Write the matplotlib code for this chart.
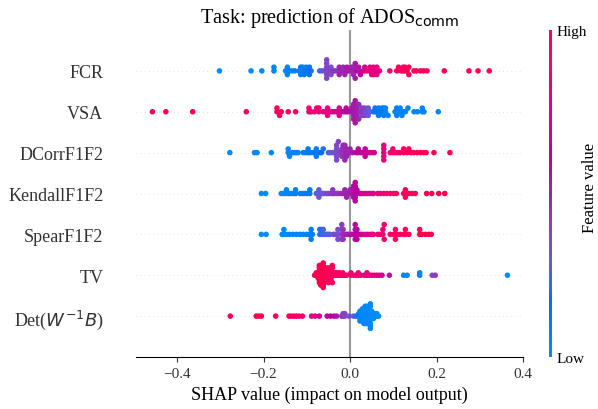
import numpy as np
import matplotlib
matplotlib.use("Agg")
import matplotlib.pyplot as plt
from matplotlib.colors import LinearSegmentedColormap, Normalize
from matplotlib.cm import ScalarMappable

plt.rcParams['font.family'] = ['Liberation Serif', 'DejaVu Sans']
plt.rcParams['mathtext.fontset'] = 'dejavusans'

# ---- data: (shap value, feature value 0..1, number of samples) ----
fcr = [
    (-0.302, 0.0, 1), (-0.229, 0.0, 1), (-0.204, 0.02, 1),
    (-0.176, 0.05, 2),
    (-0.149, 0.05, 1), (-0.145, 0.05, 2), (-0.140, 0.08, 1), (-0.134, 0.05, 1), (-0.128, 0.1, 1),
    (-0.118, 0.1, 1), (-0.114, 0.08, 3), (-0.110, 0.1, 2), (-0.106, 0.12, 1), (-0.102, 0.1, 2),
    (-0.098, 0.15, 1), (-0.094, 0.15, 2), (-0.090, 0.2, 1),
    (-0.070, 0.25, 1), (-0.064, 0.3, 1), (-0.058, 0.35, 1), (-0.054, 0.4, 6), (-0.048, 0.4, 1),
    (-0.044, 0.35, 2), (-0.040, 0.42, 1), (-0.036, 0.45, 1),
    (-0.030, 0.45, 1), (-0.025, 0.5, 2), (-0.020, 0.5, 1), (-0.016, 0.48, 2), (-0.012, 0.5, 1),
    (-0.007, 0.55, 2), (-0.003, 0.5, 1),
    (0.004, 0.55, 2), (0.008, 0.5, 3), (0.012, 0.55, 2), (0.016, 0.6, 1), (0.020, 0.55, 2), (0.024, 0.6, 1),
    (0.030, 0.7, 1), (0.034, 0.72, 2), (0.040, 0.75, 1), (0.046, 0.78, 2), (0.050, 0.75, 1),
    (0.054, 0.8, 3), (0.058, 0.78, 1), (0.062, 0.8, 2), (0.068, 0.75, 1),
    (0.092, 0.85, 1),
    (0.108, 0.9, 1), (0.112, 0.95, 1), (0.118, 0.95, 1), (0.123, 0.9, 2), (0.127, 0.95, 2),
    (0.132, 1.0, 1), (0.136, 0.95, 2),
    (0.148, 1.0, 1), (0.154, 0.95, 1), (0.163, 0.92, 1), (0.170, 1.0, 1), (0.178, 0.95, 1),
    (0.218, 1.0, 1), (0.275, 1.0, 1), (0.296, 1.0, 1), (0.322, 1.0, 1),
]

vsa = [
    (-0.457, 1.0, 1), (-0.426, 1.0, 1), (-0.364, 1.0, 1), (-0.240, 1.0, 1),
    (-0.169, 0.95, 2), (-0.163, 0.95, 1), (-0.159, 0.95, 1), (-0.143, 0.92, 1), (-0.126, 0.95, 1),
    (-0.095, 0.85, 2), (-0.090, 0.82, 1), (-0.082, 0.85, 1), (-0.077, 0.8, 1), (-0.072, 0.85, 2),
    (-0.062, 0.8, 1), (-0.057, 0.78, 1), (-0.052, 0.8, 2), (-0.047, 0.75, 1), (-0.041, 0.78, 1),
    (-0.036, 0.72, 1), (-0.030, 0.7, 1), (-0.025, 0.72, 2), (-0.020, 0.65, 1), (-0.014, 0.62, 1),
    (-0.009, 0.6, 2), (-0.004, 0.58, 1),
    (0.004, 0.55, 2), (0.008, 0.5, 3), (0.012, 0.55, 7), (0.016, 0.5, 3), (0.020, 0.48, 2),
    (0.024, 0.45, 1), (0.028, 0.42, 2), (0.034, 0.4, 3), (0.038, 0.35, 1), (0.042, 0.3, 2), (0.046, 0.3, 1),
    (0.054, 0.2, 1), (0.058, 0.15, 2), (0.062, 0.15, 1), (0.066, 0.1, 2), (0.070, 0.1, 1),
    (0.074, 0.08, 1), (0.078, 0.1, 3), (0.082, 0.05, 2), (0.088, 0.05, 1),
    (0.104, 0.05, 1), (0.108, 0.08, 2), (0.112, 0.05, 1), (0.116, 0.05, 2), (0.120, 0.05, 1),
    (0.124, 0.08, 1), (0.128, 0.05, 1), (0.134, 0.05, 1),
    (0.148, 0.05, 1), (0.156, 0.05, 1), (0.167, 0.05, 2), (0.171, 0.05, 1),
    (0.204, 0.02, 1),
]

dcorr = [
    (-0.278, 0.0, 1), (-0.221, 0.02, 1), (-0.215, 0.02, 1), (-0.182, 0.02, 1),
    (-0.143, 0.05, 2), (-0.140, 0.05, 1), (-0.133, 0.05, 1), (-0.128, 0.08, 1), (-0.124, 0.05, 1),
    (-0.120, 0.05, 1),
    (-0.108, 0.1, 1), (-0.103, 0.08, 1), (-0.097, 0.1, 2), (-0.092, 0.12, 1), (-0.085, 0.1, 1),
    (-0.081, 0.15, 1), (-0.078, 0.1, 2), (-0.070, 0.15, 1), (-0.066, 0.18, 1), (-0.062, 0.2, 1),
    (-0.050, 0.25, 1), (-0.045, 0.28, 1), (-0.040, 0.3, 1), (-0.035, 0.35, 1), (-0.031, 0.38, 5),
    (-0.027, 0.4, 1), (-0.023, 0.42, 1),
    (-0.019, 0.45, 3), (-0.016, 0.5, 1), (-0.012, 0.48, 5), (-0.008, 0.5, 3), (-0.004, 0.52, 1),
    (0.000, 0.5, 2), (0.006, 0.55, 1),
    (0.014, 0.58, 1), (0.019, 0.6, 2), (0.025, 0.62, 1), (0.030, 0.65, 1), (0.035, 0.62, 2),
    (0.039, 0.68, 1), (0.045, 0.7, 1), (0.050, 0.72, 1), (0.056, 0.7, 1),
    (0.078, 0.8, 5),
    (0.093, 0.85, 1), (0.099, 0.88, 2), (0.105, 0.9, 1), (0.110, 0.88, 1), (0.116, 0.9, 1),
    (0.124, 0.92, 2), (0.132, 0.92, 1),
    (0.136, 0.95, 1), (0.141, 1.0, 1), (0.147, 0.95, 1), (0.155, 1.0, 1), (0.163, 0.95, 1),
    (0.170, 1.0, 1), (0.176, 1.0, 1),
    (0.194, 1.0, 1), (0.231, 1.0, 1),
]

kendall = [
    (-0.205, 0.0, 1), (-0.195, 0.0, 1),
    (-0.159, 0.02, 1), (-0.154, 0.02, 1), (-0.147, 0.05, 2), (-0.141, 0.05, 1),
    (-0.136, 0.05, 1), (-0.130, 0.05, 1), (-0.126, 0.08, 2),
    (-0.115, 0.08, 1), (-0.109, 0.1, 1), (-0.104, 0.1, 1), (-0.099, 0.1, 1), (-0.093, 0.12, 2),
    (-0.078, 0.25, 1), (-0.075, 0.28, 1), (-0.072, 0.3, 2), (-0.068, 0.3, 1), (-0.064, 0.32, 1),
    (-0.060, 0.35, 1), (-0.054, 0.38, 1),
    (-0.050, 0.4, 1), (-0.045, 0.42, 1), (-0.040, 0.42, 2), (-0.037, 0.45, 1), (-0.031, 0.45, 1),
    (-0.027, 0.45, 1),
    (-0.021, 0.48, 1), (-0.016, 0.5, 1), (-0.012, 0.5, 2), (-0.008, 0.5, 1), (-0.004, 0.52, 1),
    (0.000, 0.5, 2), (0.004, 0.55, 2), (0.008, 0.55, 4), (0.012, 0.6, 6), (0.016, 0.6, 2),
    (0.023, 0.62, 1),
    (0.027, 0.68, 1), (0.033, 0.7, 1), (0.039, 0.72, 1), (0.045, 0.72, 1), (0.050, 0.75, 1),
    (0.054, 0.75, 1),
    (0.064, 0.8, 1), (0.070, 0.82, 1), (0.078, 0.85, 1), (0.085, 0.85, 1), (0.093, 0.88, 1),
    (0.101, 0.9, 1), (0.107, 0.9, 1),
    (0.124, 0.95, 1), (0.128, 0.95, 3), (0.136, 0.95, 1), (0.143, 0.95, 1), (0.151, 0.98, 1),
    (0.177, 1.0, 1), (0.189, 1.0, 1), (0.205, 1.0, 1), (0.219, 1.0, 1),
]

spear = [
    (-0.205, 0.0, 1), (-0.194, 0.0, 1),
    (-0.157, 0.02, 1), (-0.153, 0.02, 2), (-0.147, 0.05, 1), (-0.140, 0.05, 1), (-0.132, 0.05, 1),
    (-0.124, 0.05, 1), (-0.116, 0.05, 1), (-0.109, 0.05, 1), (-0.101, 0.05, 1), (-0.095, 0.08, 1),
    (-0.090, 0.1, 3), (-0.087, 0.1, 1),
    (-0.070, 0.2, 2), (-0.066, 0.2, 2), (-0.062, 0.25, 2), (-0.058, 0.22, 1), (-0.054, 0.28, 1),
    (-0.050, 0.3, 1), (-0.047, 0.25, 1), (-0.039, 0.35, 1), (-0.035, 0.38, 1), (-0.031, 0.4, 1),
    (-0.028, 0.35, 3),
    (-0.019, 0.42, 4), (-0.016, 0.45, 3), (-0.012, 0.48, 1), (-0.008, 0.5, 1), (-0.004, 0.5, 1),
    (0.000, 0.52, 1), (0.004, 0.55, 1), (0.008, 0.55, 1), (0.012, 0.58, 4), (0.016, 0.6, 3),
    (0.019, 0.62, 1), (0.023, 0.62, 1),
    (0.027, 0.7, 1), (0.033, 0.72, 1), (0.039, 0.75, 1), (0.045, 0.75, 1), (0.050, 0.78, 1),
    (0.054, 0.8, 1),
    (0.064, 0.82, 1), (0.070, 0.85, 1), (0.076, 0.85, 2), (0.079, 0.88, 2),
    (0.093, 0.9, 1), (0.101, 0.9, 1), (0.105, 0.92, 3), (0.109, 0.95, 1), (0.116, 0.95, 1),
    (0.124, 0.95, 1), (0.128, 0.95, 2), (0.136, 0.98, 1),
    (0.161, 1.0, 2), (0.166, 1.0, 1), (0.174, 1.0, 1), (0.182, 1.0, 1), (0.188, 1.0, 1),
]

tv = [
    (-0.082, 1.0, 1), (-0.078, 1.0, 2), (-0.074, 1.0, 3), (-0.071, 1.0, 5), (-0.068, 1.0, 9),
    (-0.065, 1.0, 6), (-0.062, 1.0, 5), (-0.059, 1.0, 7), (-0.056, 1.0, 6), (-0.053, 0.98, 4),
    (-0.050, 0.98, 3), (-0.047, 0.95, 2), (-0.044, 0.95, 5), (-0.041, 0.95, 3), (-0.037, 0.95, 2),
    (-0.033, 0.92, 2), (-0.029, 0.92, 2), (-0.025, 0.9, 2), (-0.021, 0.9, 1), (-0.017, 0.9, 2),
    (-0.012, 0.88, 1), (-0.008, 0.88, 1),
    (0.002, 0.88, 2), (0.008, 0.85, 1), (0.014, 0.85, 1), (0.019, 0.85, 2), (0.025, 0.82, 1),
    (0.033, 0.8, 1), (0.039, 0.82, 2), (0.045, 0.8, 1), (0.050, 0.78, 1), (0.056, 0.78, 1),
    (0.062, 0.75, 1), (0.068, 0.72, 1), (0.074, 0.7, 1),
    (0.091, 0.55, 1),
    (0.124, 0.05, 1), (0.132, 0.05, 1), (0.161, 0.05, 2), (0.190, 0.4, 1), (0.197, 0.42, 1),
    (0.364, 0.0, 1),
]

det = [
    (-0.277, 1.0, 1), (-0.217, 1.0, 1), (-0.211, 1.0, 1), (-0.205, 1.0, 1), (-0.172, 1.0, 1),
    (-0.141, 0.95, 1), (-0.136, 0.95, 1), (-0.130, 0.92, 1), (-0.124, 0.92, 1), (-0.118, 0.9, 1),
    (-0.110, 0.88, 1),
    (-0.089, 0.8, 1), (-0.081, 0.78, 1), (-0.071, 0.72, 1),
    (-0.053, 0.62, 1), (-0.045, 0.6, 1), (-0.037, 0.58, 1), (-0.031, 0.55, 1),
    (-0.019, 0.45, 1), (-0.016, 0.42, 2), (-0.012, 0.4, 2),
    (-0.002, 0.35, 1), (0.008, 0.3, 1), (0.014, 0.2, 1),
    (0.020, 0.1, 2), (0.023, 0.05, 3), (0.026, 0.05, 4), (0.029, 0.05, 6), (0.032, 0.03, 7),
    (0.035, 0.02, 8), (0.038, 0.02, 8), (0.041, 0.02, 7), (0.044, 0.02, 6), (0.047, 0.02, 5),
    (0.050, 0.0, 4), (0.054, 0.0, 3), (0.058, 0.0, 2), (0.062, 0.0, 2), (0.066, 0.0, 1),
]

# bottom -> top
feature_names = ['Det($W^{-1}B$)', 'TV', 'SpearF1F2', 'KendallF1F2', 'DCorrF1F2', 'VSA', 'FCR']
feature_rows = [det, tv, spear, kendall, dcorr, vsa, fcr]


# ---- shap style red/blue colormap (interpolated in LCH) ----
def lch_to_rgb(l, c, h):
    a, b = c * np.cos(h), c * np.sin(h)
    fy = (l + 16) / 116
    fx, fz = fy + a / 500, fy - b / 200

    def finv(t):
        return t ** 3 if t > 6 / 29 else 3 * (6 / 29) ** 2 * (t - 4 / 29)

    xyz = np.array([0.95047 * finv(fx), finv(fy), 1.08883 * finv(fz)])
    m = np.array([[3.2406, -1.5372, -0.4986],
                  [-0.9689, 1.8758, 0.0415],
                  [0.0557, -0.2040, 1.0570]])
    lin = m @ xyz
    rgb = np.where(lin > 0.0031308, 1.055 * np.clip(lin, 0, None) ** (1 / 2.4) - 0.055, 12.92 * lin)
    return np.clip(rgb, 0, 1)


l_vals = np.concatenate([np.linspace(54, 40, 50), np.linspace(40, 54, 50)])
c_vals = np.linspace(70, 90, 100)
h_vals = np.linspace(4.6588, 0.35470565 + 2 * np.pi, 100)
red_blue = LinearSegmentedColormap.from_list(
    'red_blue', [lch_to_rgb(l, c, h) for l, c, h in zip(l_vals, c_vals, h_vals)])

# ---- figure ----
W, H = 598, 410
fig = plt.figure(figsize=(W / 100, H / 100), dpi=100)
ax = fig.add_axes([136 / W, 1 - 358 / H, (523 - 136) / W, (358 - 31) / H])

axis_color = '#333333'
row_height = 0.4

ax.axvline(0, color='#999999', zorder=-1)

for pos, rows in enumerate(feature_rows):
    ax.axhline(pos, color='#cccccc', lw=0.5, dashes=(1, 5), zorder=-1)

    counts = [r[2] for r in rows]
    shaps = np.repeat([r[0] for r in rows], counts)
    feats = np.repeat([r[1] for r in rows], counts)

    # beeswarm layout as in shap.summary_plot
    n = len(shaps)
    nbins = 100
    quant = np.round(nbins * (shaps - shaps.min()) / (shaps.max() - shaps.min() + 1e-8))
    inds = np.argsort(quant, kind='stable')
    layer = 0
    last_bin = -1
    ys = np.zeros(n)
    for ind in inds:
        if quant[ind] != last_bin:
            layer = 0
        ys[ind] = np.ceil(layer / 2) * ((layer % 2) * 2 - 1)
        layer += 1
        last_bin = quant[ind]
    ys *= 0.9 * (row_height / np.max(ys + 1))

    ax.scatter(shaps, pos + ys, c=feats, cmap=red_blue, vmin=0, vmax=1,
               s=16, linewidth=0, alpha=1, zorder=3)

ax.set_xlim(-0.495, 0.4)
ax.set_ylim(-1, len(feature_rows))
ax.set_xticks([-0.4, -0.2, 0.0, 0.2, 0.4])
ax.set_yticks(range(len(feature_rows)))
ax.set_yticklabels(feature_names, fontsize=13)

ax.xaxis.set_ticks_position('bottom')
for side in ['right', 'top', 'left']:
    ax.spines[side].set_visible(False)
ax.tick_params(color=axis_color, labelcolor=axis_color)
ax.tick_params('y', length=0, pad=23.5)
ax.tick_params('x', labelsize=11)

ax.set_xlabel('SHAP value (impact on model output)', fontsize=13)
ax.set_title('Task: prediction of ADOS$_{\\mathrm{comm}}$', fontsize=14.6)

# ---- colorbar ----
cax = fig.add_axes([549 / W, 1 - 358 / H, 3 / W, (358 - 31) / H])
sm = ScalarMappable(norm=Normalize(0, 1), cmap=red_blue)
cb = fig.colorbar(sm, cax=cax, ticks=[0, 1])
cb.set_ticklabels(['Low', 'High'])
cb.outline.set_visible(False)
cax.tick_params(labelsize=11, length=0)
fig.text(590 / W, 1 - 188 / H, 'Feature value', rotation=90, ha='center', va='center', fontsize=12)

fig.savefig('out.png', dpi=100)
